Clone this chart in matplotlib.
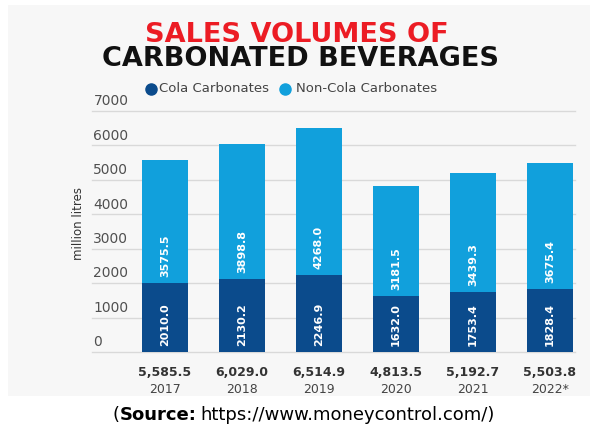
import matplotlib
matplotlib.use("Agg")
import matplotlib.pyplot as plt
from matplotlib.patches import Rectangle

# ── Data ──────────────────────────────────────────────────────────────────────
years    = ["2017", "2018", "2019", "2020", "2021", "2022*"]
cola     = [2010.0, 2130.2, 2246.9, 1632.0, 1753.4, 1828.4]
non_cola = [3575.5, 3898.8, 4268.0, 3181.5, 3439.3, 3675.4]
totals   = ["5,585.5", "6,029.0", "6,514.9", "4,813.5", "5,192.7", "5,503.8"]
yticks   = [0, 1000, 2000, 3000, 4000, 5000, 6000, 7000]

DARK  = "#0b4b8c"
LIGHT = "#11a0dc"
W, H = 595, 430

fig = plt.figure(figsize=(W / 100, H / 100), dpi=100)
fig.patch.set_facecolor("white")
fig.patches.append(Rectangle((8 / W, 1 - 396 / H), 582 / W, 391 / H,
                             transform=fig.transFigure, facecolor="#f7f7f7",
                             edgecolor="none", zorder=-5))

# axes: x 92..575 px, y 111..352 px
ax = fig.add_axes([92 / W, 1 - 352 / H, 483 / W, 241 / H])
ax.set_facecolor("none")
x = list(range(len(years)))
ax.set_xlim(-0.948, 5.325)
ax.set_ylim(0, 7000)

for v in yticks:
    ax.axhline(v, color="#d9d9d9", lw=1.0, zorder=1, clip_on=False)
    ax.annotate(str(v), xy=(0, v), xycoords=("axes fraction", "data"),
                xytext=(1, 2), textcoords="offset points", va="bottom",
                ha="left", fontsize=10, color="#505050")

ax.bar(x, cola, width=0.6, color=DARK, zorder=2)
ax.bar(x, non_cola, width=0.6, bottom=cola, color=LIGHT, zorder=2)

in_kw = dict(fontweight="bold", fontsize=8)
for i in x:
    ax.annotate(f"{cola[i]:.1f}", xy=(i, 0), xytext=(0, 4),
                textcoords="offset points", rotation=90, ha="center",
                va="bottom", color="white", zorder=3, **in_kw)
    ax.annotate(f"{non_cola[i]:.1f}", xy=(i, cola[i]), xytext=(0, 4),
                textcoords="offset points", rotation=90, ha="center",
                va="bottom", color="white", zorder=3, **in_kw)
    ax.annotate(totals[i], xy=(i, 0), xytext=(0, -15),
                textcoords="offset points", ha="center", va="center",
                fontsize=9, fontweight="bold", color="#333333",
                annotation_clip=False)
    ax.annotate(years[i], xy=(i, 0), xytext=(0, -27),
                textcoords="offset points", ha="center", va="center",
                fontsize=9, color="#444444", annotation_clip=False)

ax.set_xticks([]); ax.set_yticks([])
for s in ax.spines.values():
    s.set_visible(False)

fig.text(78 / W, 1 - 224 / H, "million litres", rotation=90, ha="center",
         va="center", fontsize=8.5, color="#333333")

# ── Title & legend ────────────────────────────────────────────────────────────
fig.text(297 / W, 1 - 35 / H, "SALES VOLUMES OF", ha="center", va="center",
         fontsize=19.5, fontweight="heavy", color="#ec1c24")
fig.text(301 / W, 1 - 59 / H, "CARBONATED BEVERAGES", ha="center",
         va="center", fontsize=19.5, fontweight="heavy", color="#111111")

ly = 1 - 89 / H
fig.lines.append(plt.Line2D([151 / W], [ly], transform=fig.transFigure,
                            marker="o", ms=8, color=DARK, ls="none"))
fig.text(159 / W, ly, "Cola Carbonates", ha="left", va="center",
         fontsize=9.5, color="#444444")
fig.lines.append(plt.Line2D([285 / W], [ly], transform=fig.transFigure,
                            marker="o", ms=8, color=LIGHT, ls="none"))
fig.text(296 / W, ly, "Non-Cola Carbonates", ha="left", va="center",
         fontsize=9.5, color="#444444")

# ── Source ────────────────────────────────────────────────────────────────────
sy = 1 - 415 / H
t0 = fig.text(112 / W, sy, "(", ha="left", va="center", fontsize=13,
              color="black")
fig.canvas.draw()
b0 = t0.get_window_extent()
t1 = fig.text((b0.x1 + 1) / W, sy, "Source:", ha="left", va="center",
              fontsize=13, fontweight="bold", color="black")
fig.canvas.draw()
b1 = t1.get_window_extent()
fig.text((b1.x1 + 4) / W, sy, "https://www.moneycontrol.com/)",
         ha="left", va="center", fontsize=13, color="black")

fig.savefig("out.png", dpi=100)
